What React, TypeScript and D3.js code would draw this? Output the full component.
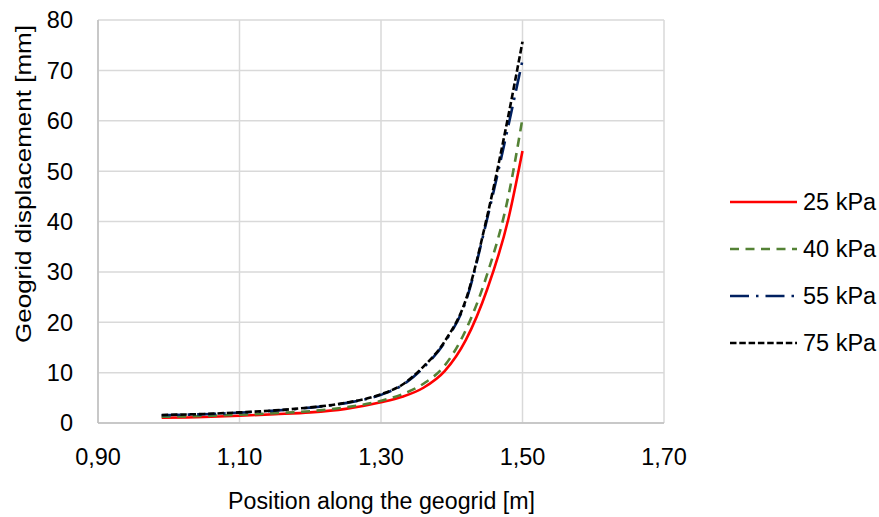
import React from "react";
import * as d3 from "d3";

const positions = [0.99, 1.05, 1.10, 1.15, 1.20, 1.25, 1.30, 1.33, 1.36, 1.39, 1.42, 1.45, 1.48, 1.50];
const kpa25 = [1.05, 1.2, 1.45, 1.75, 2.1, 2.8, 4.1, 5.2, 7.0, 10.3, 16.5, 26.5, 40.5, 54];
const kpa40 = [1.25, 1.4, 1.65, 1.95, 2.35, 3.1, 4.4, 5.7, 7.8, 11.4, 18.5, 29.5, 45, 60.5];
const kpa55 = [1.55, 1.75, 2.05, 2.45, 3.05, 3.95, 5.6, 7.5, 11.0, 16.0, 24.2, 40.5, 59, 72];
const kpa75 = [1.6, 1.8, 2.1, 2.5, 3.1, 4.0, 5.7, 7.6, 11.2, 16.2, 24.5, 41, 61, 75.7];

const seriesNames = ["25 kPa", "40 kPa", "55 kPa", "75 kPa"];
const xTicks = [0.9, 1.1, 1.3, 1.5, 1.7];
const yTicks = [0, 10, 20, 30, 40, 50, 60, 70, 80];

const W = 879;
const H = 517;
const left = 98, right = 664, top = 20, bottom = 423;

const styles = [
  { color: "#FF0000", dash: "", width: 2.6 },
  { color: "#548235", dash: "9,6.5", width: 2.6 },
  { color: "#002060", dash: "19,7,2.5,7", width: 2.6 },
  { color: "#000000", dash: "6.5,2.8", width: 2.6 },
];

export default function App() {
  const x = d3.scaleLinear().domain([0.9, 1.7]).range([left, right]);
  const y = d3.scaleLinear().domain([0, 80]).range([bottom, top]);
  const data = [kpa25, kpa40, kpa55, kpa75];
  const line = d3
    .line<[number, number]>()
    .x((d) => x(d[0]))
    .y((d) => y(d[1]))
    .curve(d3.curveMonotoneX);
  const font = "'Liberation Sans', Arial, sans-serif";
  const fmt = (v: number) => v.toFixed(2).replace(".", ",");
  const legendY = [202, 249, 296, 343];
  const fs = 23.5;

  return (
    <svg
      width={W}
      height={H}
      style={{ position: "absolute", left: 0, top: 0, background: "#fff" }}
      fontFamily={font}
    >
      {yTicks.map((t) => (
        <line key={"gy" + t} x1={left} x2={right} y1={y(t)} y2={y(t)} stroke="#d9d9d9" strokeWidth={1.5} />
      ))}
      {xTicks.map((t) => (
        <line key={"gx" + t} x1={x(t)} x2={x(t)} y1={top} y2={bottom} stroke="#d9d9d9" strokeWidth={1.5} />
      ))}
      <line x1={left} x2={left} y1={top} y2={bottom} stroke="#bfbfbf" strokeWidth={1.5} />
      <line x1={left} x2={right} y1={bottom} y2={bottom} stroke="#bfbfbf" strokeWidth={1.5} />

      {yTicks.map((t) => (
        <text key={"ly" + t} x={73} y={y(t)} dy="0.36em" textAnchor="end" fontSize={fs} fill="#000">
          {t}
        </text>
      ))}
      {xTicks.map((t) => (
        <text key={"lx" + t} x={x(t)} y={465} textAnchor="middle" fontSize={fs} fill="#000">
          {fmt(t)}
        </text>
      ))}

      <text
        x={381.5}
        y={509}
        textAnchor="middle"
        fontSize={fs}
        fill="#000"
        textLength={307}
        lengthAdjust="spacingAndGlyphs"
      >
        Position along the geogrid [m]
      </text>
      <text
        transform={`translate(31,184) rotate(-90)`}
        textAnchor="middle"
        fontSize={22}
        fill="#000"
        textLength={318}
        lengthAdjust="spacingAndGlyphs"
      >
        Geogrid displacement [mm]
      </text>

      {data.map((vals, i) => (
        <path
          key={"s" + i}
          d={line(positions.map((p, j) => [p, vals[j]] as [number, number])) || ""}
          fill="none"
          stroke={styles[i].color}
          strokeWidth={styles[i].width}
          strokeDasharray={styles[i].dash}
        />
      ))}

      {seriesNames.map((n, i) => (
        <g key={"lg" + i}>
          <line
            x1={730}
            x2={797}
            y1={legendY[i]}
            y2={legendY[i]}
            stroke={styles[i].color}
            strokeWidth={styles[i].width}
            strokeDasharray={styles[i].dash}
          />
          <text x={803} y={legendY[i]} dy="0.36em" fontSize={fs} fill="#000">
            {n}
          </text>
        </g>
      ))}
    </svg>
  );
}
